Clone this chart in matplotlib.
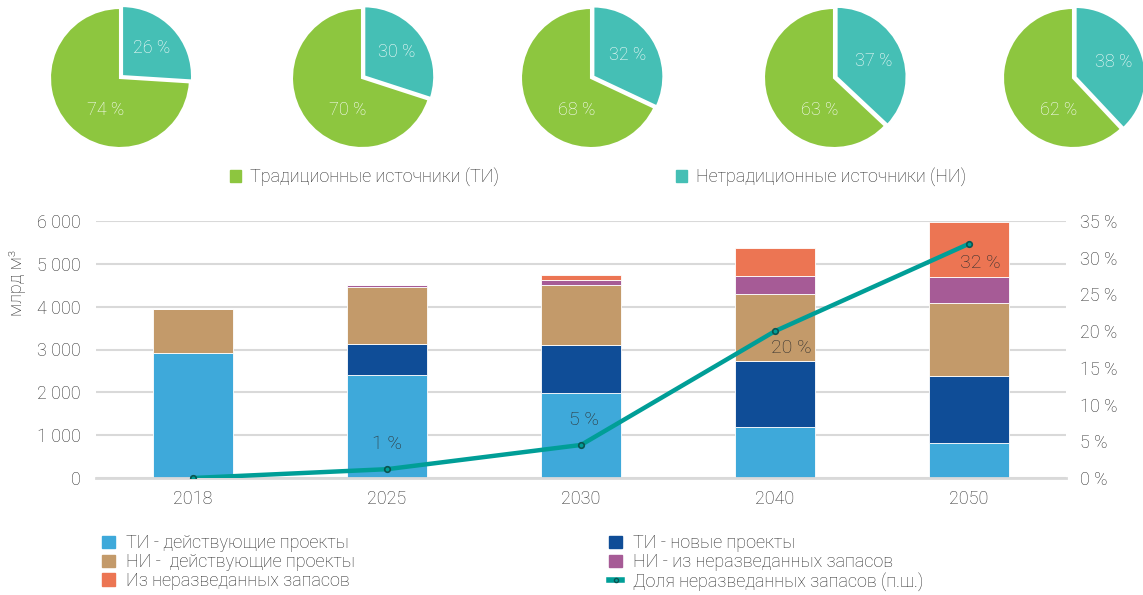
import numpy as np
import matplotlib.pyplot as plt
from matplotlib.lines import Line2D
from matplotlib.patches import Patch

plt.rcParams['font.family'] = ['Roboto', 'DejaVu Sans']

# pie shares, %
pie_ni = [26, 30, 32, 37, 38]
pie_ti = [74, 70, 68, 63, 62]

# bar data, bcm
years = ['2018', '2025', '2030', '2040', '2050']
ti_exist = [2910, 2410, 1980, 1185, 810]
ti_new = [0, 730, 1135, 1550, 1575]
ni_exist = [1030, 1325, 1395, 1565, 1700]
ni_unexpl = [0, 30, 110, 415, 615]
unexpl = [0, 15, 110, 655, 1285]
share = [0, 1.2, 4.5, 20.0, 31.9]
share_lbl = ['', '1 %', '5 %', '20 %', '32 %']

c_green = '#8DC63F'
c_teal = '#45BFB5'
c_ltblue = '#3EA9DA'
c_dkblue = '#0F4D97'
c_tan = '#C39A6A'
c_purple = '#A65B96'
c_orange = '#EC7553'
c_line = '#009E97'
txt = '#2E2E2E'

W, H = 1143, 595
fig = plt.figure(figsize=(W/100, H/100), dpi=100)

# pies
centers = [120, 362, 591, 834, 1073]
r = 70
for i in range(5):
    cx = centers[i]
    axp = fig.add_axes([(cx - r)/W, 1 - (78 + r)/H, 2*r/W, 2*r/H])
    wedges, texts, autot = axp.pie([pie_ni[i], pie_ti[i]], colors=[c_teal, c_green],
                                   startangle=90, counterclock=False, explode=[0.04, 0],
                                   autopct='%d %%', pctdistance=0.58,
                                   wedgeprops=dict(edgecolor='white', linewidth=1.5),
                                   textprops=dict(color='white', fontsize=13, fontweight='light'))
    autot[0].set_text(f'{pie_ni[i]} %')
    autot[1].set_text(f'{pie_ti[i]} %')
    autot[1].set_position((-0.2, -0.46))
    axp.set_xlim(-1, 1)
    axp.set_ylim(-1, 1)
    axp.set_aspect('equal')

pie_handles = [Patch(color=c_green), Patch(color=c_teal)]
fig.legend(pie_handles, ['Традиционные источники (ТИ)', 'Нетрадиционные источники (НИ)'],
           loc='center', bbox_to_anchor=(598/W, 1 - 177/H), ncol=2, frameon=False,
           prop=dict(size=13, weight='light'), handlelength=0.6, handleheight=0.6,
           handletextpad=0.5, columnspacing=9.8, labelcolor=txt)

# bars
ax = fig.add_axes([96/W, 1 - 478/H, 970/W, 257/H])
x = np.arange(len(years))
w = 0.41
series = [(ti_exist, c_ltblue), (ti_new, c_dkblue), (ni_exist, c_tan),
          (ni_unexpl, c_purple), (unexpl, c_orange)]
bottom = np.zeros(len(years))
for vals, col in series:
    ax.bar(x, vals, w, bottom=bottom, color=col, edgecolor='white', linewidth=0.6, zorder=2)
    bottom += np.array(vals)

ax.set_xlim(-0.5, 4.5)
ax.set_ylim(0, 6000)
ax.set_yticks(range(0, 6001, 1000))
ax.set_yticklabels([f'{v:,}'.replace(',', ' ') for v in range(0, 6001, 1000)])
ax.set_xticks(x)
ax.set_xticklabels(years)
ax.grid(axis='y', color='#D9D9D9', linewidth=1.5, zorder=0)
ax.set_axisbelow(True)
for s in ['top', 'right', 'left']:
    ax.spines[s].set_visible(False)
ax.spines['bottom'].set_color('#D9D9D9')
ax.spines['bottom'].set_linewidth(2)
ax.tick_params(length=0, labelsize=13, colors=txt, pad=9)
ax.tick_params(axis='y', pad=11)
for t in ax.get_xticklabels() + ax.get_yticklabels():
    t.set_fontweight('light')
ax.set_ylabel('млрд м³', fontsize=13, color=txt, fontweight='light')
ax.yaxis.set_label_coords(-0.072, 0.76)

ax2 = ax.twinx()
ax2.set_ylim(0, 35)
ax2.set_yticks(range(0, 36, 5))
ax2.set_yticklabels([f'{v} %' for v in range(0, 36, 5)], fontweight='light')
for s in ['top', 'right', 'left', 'bottom']:
    ax2.spines[s].set_visible(False)
ax2.tick_params(length=0, labelsize=13, colors=txt, pad=10)
ax2.plot(x, share, color=c_line, linewidth=3.2, marker='o', markersize=4,
         markerfacecolor=c_line, markeredgecolor='#0B5450', markeredgewidth=1.2,
         zorder=3)
offsets = [(0, 0), (0, 18), (2, 18), (12, -12), (8, -14)]
for i in range(1, 5):
    ax2.annotate(share_lbl[i], (x[i], share[i]), xytext=offsets[i], textcoords='offset points',
                 ha='center', va='center', fontsize=14, color=txt, fontweight='light')

handles = [Patch(color=c_ltblue), Patch(color=c_tan), Patch(color=c_orange),
           Patch(color=c_dkblue), Patch(color=c_purple),
           Line2D([0], [0], color=c_line, linewidth=4, marker='o', markersize=3,
                  markerfacecolor=c_line, markeredgecolor='#0B5450')]
labels = ['ТИ - действующие проекты', 'НИ -  действующие проекты', 'Из неразведанных запасов',
          'ТИ - новые проекты', 'НИ - из неразведанных запасов', 'Доля неразведанных запасов (п.ш.)']
fig.legend(handles, labels, loc='upper left', bbox_to_anchor=(86/W, 1 - 518/H), ncol=2,
           frameon=False, prop=dict(size=13, weight='light'), handlelength=0.7,
           handleheight=0.7, handletextpad=0.6, columnspacing=14.1, labelspacing=0.05,
           labelcolor=txt)

fig.savefig('out.png', dpi=100)
